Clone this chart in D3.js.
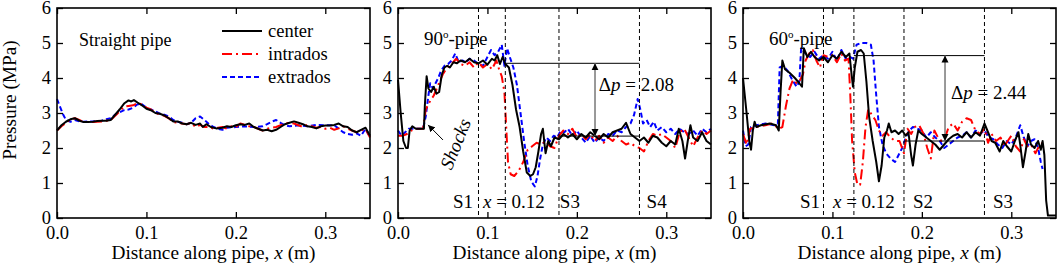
<!DOCTYPE html>
<html>
<head>
<meta charset="utf-8">
<script src="https://cdn.jsdelivr.net/npm/d3@7"></script>
<style>
  body { margin: 0; background: #fff; }
  text { font-family: "Liberation Serif", "Times New Roman", serif; fill: #000; }
</style>
</head>
<body>
<svg id="chart" width="1059" height="265"></svg>
<script>
// ---- data: [x (m), pressure (MPa)] ----
let xTicks = [0, 0.1, 0.2, 0.3];
let yTicks = [0, 1, 2, 3, 4, 5, 6];

let straightCenter = [[0,2.5],[0.005,2.65],[0.01,2.75],[0.015,2.82],[0.02,2.85],[0.025,2.78],[0.03,2.74],[0.035,2.74],[0.04,2.75],[0.045,2.77],[0.05,2.78],[0.055,2.78],[0.06,2.8],[0.065,2.95],[0.07,3.1],[0.075,3.27],[0.08,3.36],[0.083,3.33],[0.086,3.37],[0.09,3.3],[0.095,3.22],[0.1,3.12],[0.105,3.08],[0.11,3.0],[0.115,2.98],[0.12,2.93],[0.125,2.85],[0.13,2.76],[0.135,2.76],[0.14,2.7],[0.145,2.68],[0.15,2.72],[0.155,2.66],[0.16,2.7],[0.163,2.6],[0.167,2.68],[0.172,2.6],[0.178,2.56],[0.185,2.58],[0.19,2.62],[0.195,2.6],[0.2,2.65],[0.205,2.68],[0.21,2.66],[0.215,2.7],[0.22,2.6],[0.225,2.55],[0.23,2.5],[0.235,2.52],[0.24,2.48],[0.245,2.52],[0.25,2.6],[0.255,2.68],[0.26,2.72],[0.265,2.76],[0.27,2.72],[0.275,2.68],[0.28,2.62],[0.285,2.6],[0.29,2.56],[0.295,2.62],[0.3,2.64],[0.305,2.64],[0.31,2.66],[0.315,2.7],[0.32,2.62],[0.325,2.6],[0.33,2.5],[0.335,2.45],[0.34,2.52],[0.345,2.58],[0.35,2.35]];
let straightIntrados = [[0,2.5],[0.005,2.62],[0.01,2.72],[0.015,2.82],[0.02,2.85],[0.025,2.8],[0.03,2.74],[0.04,2.74],[0.05,2.76],[0.06,2.8],[0.065,2.92],[0.07,3.05],[0.075,3.18],[0.08,3.2],[0.085,3.22],[0.09,3.28],[0.095,3.25],[0.1,3.15],[0.105,3.1],[0.11,3.0],[0.12,2.92],[0.125,2.85],[0.13,2.74],[0.135,2.72],[0.14,2.7],[0.145,2.68],[0.15,2.72],[0.155,2.6],[0.16,2.66],[0.165,2.6],[0.17,2.6],[0.175,2.55],[0.18,2.58],[0.185,2.6],[0.19,2.55],[0.195,2.62],[0.2,2.6],[0.205,2.7],[0.21,2.66],[0.215,2.62],[0.22,2.6],[0.225,2.55],[0.23,2.5],[0.235,2.55],[0.24,2.58],[0.245,2.6],[0.25,2.65],[0.255,2.7],[0.26,2.72],[0.265,2.7],[0.27,2.65],[0.275,2.6],[0.28,2.66],[0.285,2.62],[0.29,2.58],[0.295,2.6],[0.3,2.55],[0.305,2.58],[0.31,2.52],[0.315,2.56],[0.32,2.62],[0.325,2.55],[0.33,2.5],[0.335,2.45],[0.34,2.5],[0.345,2.55],[0.35,2.3]];
let straightExtrados = [[0,3.4],[0.003,3.2],[0.007,2.95],[0.01,2.8],[0.015,2.75],[0.02,2.8],[0.025,2.76],[0.03,2.75],[0.04,2.76],[0.05,2.78],[0.055,2.82],[0.06,2.85],[0.065,2.95],[0.07,3.02],[0.075,3.08],[0.08,3.1],[0.085,3.15],[0.09,3.25],[0.095,3.25],[0.1,3.15],[0.105,3.1],[0.11,3.05],[0.115,2.98],[0.12,2.95],[0.125,2.9],[0.13,2.8],[0.135,2.75],[0.14,2.72],[0.145,2.68],[0.15,2.72],[0.155,2.85],[0.16,2.9],[0.165,2.8],[0.17,2.68],[0.175,2.6],[0.18,2.55],[0.185,2.52],[0.19,2.58],[0.2,2.6],[0.21,2.62],[0.22,2.6],[0.23,2.62],[0.235,2.68],[0.24,2.75],[0.245,2.8],[0.25,2.72],[0.255,2.65],[0.26,2.62],[0.27,2.65],[0.28,2.62],[0.29,2.66],[0.3,2.65],[0.31,2.65],[0.315,2.55],[0.32,2.45],[0.325,2.4],[0.33,2.38],[0.335,2.42],[0.34,2.35],[0.345,2.55],[0.35,2.3]];

let pipe90Center = [[0,3.95],[0.003,3.0],[0.006,2.2],[0.009,2.0],[0.011,2.0],[0.013,2.5],[0.016,2.62],[0.02,2.55],[0.025,2.55],[0.029,2.55],[0.03,3.2],[0.032,4.05],[0.034,3.7],[0.037,3.6],[0.04,3.75],[0.043,3.55],[0.046,3.6],[0.049,4.1],[0.052,4.3],[0.055,4.35],[0.058,4.3],[0.062,4.45],[0.066,4.42],[0.07,4.5],[0.075,4.45],[0.08,4.55],[0.085,4.45],[0.09,4.42],[0.095,4.5],[0.1,4.38],[0.105,4.55],[0.108,4.5],[0.111,4.65],[0.114,4.4],[0.117,4.6],[0.12,4.4],[0.124,4.3],[0.128,3.8],[0.132,3.1],[0.136,2.6],[0.14,1.9],[0.144,1.3],[0.148,1.2],[0.151,1.25],[0.154,1.45],[0.157,1.9],[0.16,2.4],[0.162,2.55],[0.165,1.85],[0.168,2.2],[0.171,2.05],[0.175,2.3],[0.18,2.25],[0.185,2.4],[0.19,2.3],[0.195,2.4],[0.2,2.25],[0.205,2.4],[0.21,2.3],[0.215,2.45],[0.22,2.35],[0.225,2.25],[0.23,2.4],[0.235,2.3],[0.24,2.45],[0.245,2.5],[0.25,2.55],[0.255,2.72],[0.26,2.4],[0.265,2.3],[0.27,2.2],[0.275,2.3],[0.28,2.15],[0.285,2.35],[0.29,2.3],[0.295,2.15],[0.3,2.05],[0.305,2.2],[0.31,2.1],[0.314,2.55],[0.318,2.2],[0.321,1.7],[0.324,2.2],[0.327,2.65],[0.33,2.3],[0.335,2.2],[0.34,2.45],[0.345,2.2],[0.35,2.1]];
let pipe90Intrados = [[0,2.35],[0.005,2.35],[0.01,2.4],[0.015,2.5],[0.02,2.55],[0.028,2.55],[0.031,3.1],[0.035,3.3],[0.04,3.5],[0.045,3.8],[0.05,4.1],[0.055,4.3],[0.06,4.4],[0.065,4.55],[0.07,4.4],[0.075,4.35],[0.08,4.45],[0.085,4.3],[0.09,4.45],[0.095,4.3],[0.1,4.4],[0.105,4.25],[0.11,4.5],[0.113,4.25],[0.116,4.05],[0.119,3.6],[0.121,2.6],[0.123,1.6],[0.126,1.25],[0.13,1.2],[0.135,1.35],[0.14,1.6],[0.145,1.95],[0.15,2.05],[0.155,2.15],[0.16,2.1],[0.165,2.2],[0.17,2.05],[0.175,2.0],[0.18,2.35],[0.185,2.5],[0.19,2.4],[0.195,2.55],[0.2,2.3],[0.205,2.4],[0.21,2.25],[0.215,2.4],[0.22,2.2],[0.225,2.35],[0.23,2.15],[0.235,2.3],[0.24,2.2],[0.245,2.35],[0.25,2.2],[0.255,2.1],[0.26,2.15],[0.265,2.05],[0.27,2.0],[0.275,1.9],[0.28,2.2],[0.285,2.4],[0.29,2.35],[0.295,2.4],[0.3,2.3],[0.305,2.2],[0.31,2.0],[0.315,2.45],[0.32,2.55],[0.325,2.3],[0.33,2.05],[0.335,2.3],[0.34,2.5],[0.345,2.4],[0.35,2.5]];
let pipe90Extrados = [[0,2.5],[0.004,2.35],[0.008,2.45],[0.012,2.55],[0.02,2.55],[0.028,2.55],[0.031,2.9],[0.034,3.5],[0.036,3.85],[0.039,3.7],[0.042,3.85],[0.045,4.0],[0.048,4.2],[0.052,4.35],[0.056,4.4],[0.06,4.5],[0.064,4.7],[0.068,4.45],[0.072,4.5],[0.076,4.45],[0.08,4.55],[0.085,4.5],[0.09,4.4],[0.095,4.35],[0.1,4.6],[0.104,4.8],[0.108,4.65],[0.112,4.75],[0.116,4.95],[0.119,4.35],[0.122,4.85],[0.125,4.6],[0.129,4.3],[0.133,3.8],[0.137,3.0],[0.141,2.2],[0.145,1.5],[0.149,1.05],[0.153,0.9],[0.156,1.2],[0.159,1.7],[0.162,2.1],[0.166,2.3],[0.17,2.2],[0.174,2.35],[0.178,2.3],[0.182,2.5],[0.186,2.45],[0.19,2.55],[0.195,2.35],[0.2,2.5],[0.205,2.3],[0.21,2.15],[0.215,2.35],[0.22,2.15],[0.225,2.3],[0.23,2.2],[0.235,2.4],[0.24,2.35],[0.245,2.5],[0.25,2.45],[0.255,2.6],[0.26,2.7],[0.264,2.95],[0.268,3.4],[0.271,3.1],[0.274,2.7],[0.278,2.8],[0.282,2.6],[0.286,2.75],[0.29,2.5],[0.295,2.6],[0.3,2.45],[0.305,2.55],[0.31,2.4],[0.315,2.55],[0.32,2.45],[0.325,2.4],[0.33,2.5],[0.335,2.35],[0.34,2.55],[0.345,2.45],[0.35,2.55]];

let pipe60Center = [[0,4.0],[0.004,3.0],[0.007,2.2],[0.009,1.95],[0.011,2.5],[0.013,2.75],[0.015,2.6],[0.02,2.65],[0.03,2.7],[0.037,2.65],[0.04,2.5],[0.042,3.6],[0.044,4.5],[0.047,4.25],[0.052,4.15],[0.058,4.0],[0.063,3.85],[0.066,3.75],[0.068,4.85],[0.072,4.6],[0.076,4.75],[0.08,4.6],[0.085,4.5],[0.09,4.6],[0.095,4.45],[0.1,4.65],[0.105,4.55],[0.11,4.75],[0.115,4.6],[0.119,4.7],[0.121,4.2],[0.123,3.75],[0.125,4.3],[0.128,4.75],[0.132,4.8],[0.135,4.7],[0.138,3.9],[0.141,2.9],[0.145,2.2],[0.149,1.6],[0.152,1.05],[0.155,1.5],[0.158,2.3],[0.161,2.5],[0.163,2.7],[0.166,2.45],[0.17,2.5],[0.174,2.4],[0.178,2.5],[0.182,2.35],[0.185,2.45],[0.188,1.8],[0.19,1.5],[0.193,2.1],[0.196,2.5],[0.2,2.4],[0.205,2.3],[0.21,2.2],[0.215,2.1],[0.22,1.95],[0.225,2.1],[0.23,2.25],[0.235,2.35],[0.24,2.4],[0.245,2.3],[0.25,2.45],[0.255,2.3],[0.26,2.45],[0.265,2.35],[0.27,2.7],[0.274,2.45],[0.278,2.2],[0.282,2.15],[0.287,1.9],[0.291,2.2],[0.295,2.05],[0.3,1.9],[0.304,2.2],[0.308,2.45],[0.31,2.1],[0.313,1.45],[0.316,1.9],[0.319,2.4],[0.322,2.1],[0.326,2.0],[0.33,2.2],[0.333,1.95],[0.335,2.2],[0.337,1.8],[0.339,0.5],[0.341,0.07],[0.35,0.07]];
let pipe60Intrados = [[0,2.4],[0.004,2.1],[0.008,2.55],[0.015,2.6],[0.025,2.65],[0.033,2.7],[0.04,2.55],[0.044,2.6],[0.048,3.2],[0.052,3.7],[0.056,3.95],[0.06,3.85],[0.064,3.95],[0.067,4.1],[0.07,4.5],[0.074,4.7],[0.078,4.8],[0.082,4.5],[0.086,4.3],[0.09,4.65],[0.095,4.6],[0.1,4.65],[0.105,4.45],[0.11,4.7],[0.114,4.5],[0.118,4.55],[0.12,3.5],[0.122,2.2],[0.125,1.3],[0.128,0.95],[0.131,0.95],[0.134,1.6],[0.137,2.6],[0.14,3.1],[0.144,2.95],[0.148,2.8],[0.152,2.5],[0.156,2.35],[0.16,2.45],[0.165,2.3],[0.17,2.2],[0.175,2.2],[0.18,1.85],[0.184,2.55],[0.188,2.4],[0.192,2.6],[0.197,2.65],[0.202,2.4],[0.206,2.0],[0.21,1.7],[0.214,2.5],[0.218,2.3],[0.222,2.2],[0.226,2.3],[0.23,2.6],[0.235,2.7],[0.24,2.5],[0.245,2.75],[0.25,2.85],[0.255,2.8],[0.26,2.5],[0.265,2.4],[0.27,2.55],[0.274,2.15],[0.278,2.4],[0.283,2.2],[0.288,2.3],[0.292,2.05],[0.296,2.2],[0.3,2.35],[0.305,2.05],[0.31,1.9],[0.314,2.25],[0.318,2.05],[0.322,2.1],[0.327,1.85],[0.331,2.05],[0.335,2.15]];
let pipe60Extrados = [[0,2.5],[0.003,2.05],[0.006,2.1],[0.009,2.6],[0.015,2.65],[0.025,2.7],[0.035,2.65],[0.039,2.7],[0.041,4.3],[0.045,4.35],[0.05,4.2],[0.055,3.95],[0.06,3.75],[0.063,3.9],[0.065,4.85],[0.07,4.7],[0.075,4.6],[0.08,4.75],[0.085,4.55],[0.09,4.65],[0.095,4.55],[0.1,4.75],[0.105,4.5],[0.11,4.8],[0.115,4.55],[0.12,4.6],[0.123,4.55],[0.127,4.95],[0.132,5.0],[0.138,5.0],[0.143,4.95],[0.146,4.5],[0.149,3.5],[0.152,2.6],[0.156,2.1],[0.16,1.85],[0.165,1.7],[0.17,1.6],[0.174,1.8],[0.178,2.0],[0.182,2.3],[0.186,2.5],[0.19,2.6],[0.195,2.55],[0.2,2.5],[0.205,2.3],[0.21,2.45],[0.215,2.3],[0.22,2.2],[0.225,2.0],[0.23,2.1],[0.235,2.2],[0.24,2.3],[0.245,2.35],[0.25,2.45],[0.255,2.3],[0.26,2.5],[0.265,2.4],[0.27,2.5],[0.275,2.3],[0.28,2.25],[0.285,2.1],[0.29,2.0],[0.295,2.2],[0.3,2.1],[0.305,2.3],[0.31,2.65],[0.314,2.3],[0.318,2.05],[0.322,2.2],[0.326,2.25],[0.33,2.0],[0.333,1.6],[0.335,1.4]];

// section markers and pressure jumps
let sections90 = [0.09, 0.12, 0.18, 0.27];
let sections60 = [0.09, 0.124, 0.18, 0.27];
let jump90 = {hi: 4.42, lo: 2.34, dp: '2.08'};
let jump60 = {hi: 4.64, lo: 2.20, dp: '2.44'};

let seriesNames = ['center', 'intrados', 'extrados'];
let seriesColors = ['#000', '#ff0000', '#0000ff'];
let seriesDash = [null, '10,4,2,4', '5,3'];

// ---- layout ----
let svg = d3.select('#chart');
let plotTop = 8, plotBottom = 218, pw = 313;
let lefts = [57, 398, 743];
let fs = '19px';

svg.append('defs').append('marker')
  .attr('id', 'ah').attr('viewBox', '0 0 10 10').attr('refX', 10).attr('refY', 5)
  .attr('markerWidth', 7).attr('markerHeight', 8).attr('markerUnits', 'userSpaceOnUse')
  .attr('orient', 'auto-start-reverse')
  .append('path').attr('d', 'M0,0 L10,5 L0,10 z').attr('fill', '#000');

function panel(i, series) {
  let x0 = lefts[i];
  let x = d3.scaleLinear().domain([0, 0.35]).range([x0, x0 + pw]);
  let y = d3.scaleLinear().domain([0, 6]).range([plotBottom, plotTop]);
  let g = svg.append('g');

  let ax = (gen, tr) => {
    let a = g.append('g').attr('transform', tr).call(gen);
    a.select('.domain').remove();
    a.selectAll('line').attr('stroke', '#000').attr('stroke-width', 1.3);
    a.selectAll('text').style('font-size', '18.5px').style('font-family', '"Liberation Serif", serif');
    return a;
  };
  ax(d3.axisBottom(x).tickValues(xTicks).tickFormat(d3.format('.1f')).tickSize(-6).tickPadding(8), `translate(0,${plotBottom})`);
  ax(d3.axisTop(x).tickValues(xTicks).tickFormat('').tickSize(-6), `translate(0,${plotTop})`);
  ax(d3.axisLeft(y).tickValues(yTicks).tickFormat(d3.format('d')).tickSize(-6).tickPadding(6), `translate(${x0},0)`);
  ax(d3.axisRight(y).tickValues(yTicks).tickFormat('').tickSize(-6), `translate(${x0 + pw},0)`);

  // data lines
  let line = d3.line().x(d => x(d[0])).y(d => y(d[1]));
  g.append('g').selectAll('path')
    .data(series.map((s, k) => ({s, k})).reverse())
    .join('path')
    .attr('d', d => line(d.s))
    .attr('fill', 'none')
    .attr('stroke', d => seriesColors[d.k])
    .attr('stroke-width', 2)
    .attr('stroke-linejoin', 'round')
    .attr('stroke-dasharray', d => seriesDash[d.k]);

  // frame
  g.append('rect').attr('x', x0).attr('y', plotTop).attr('width', pw).attr('height', plotBottom - plotTop)
    .attr('fill', 'none').attr('stroke', '#000').attr('stroke-width', 1.6);

  g.append('text').attr('x', x0 + pw / 2).attr('y', 259).attr('text-anchor', 'middle')
    .style('font-size', '19.3px')
    .html('Distance along pipe, <tspan font-style="italic">x</tspan> (m)');
  return {g, x, y};
}

function sectionMarks(p, secs, jump, arrowX, labels, dpPos) {
  let {g, x, y} = p;
  g.selectAll('line.sec').data(secs).join('line').attr('class', 'sec')
    .attr('x1', d => x(d)).attr('x2', d => x(d)).attr('y1', y(6)).attr('y2', y(0))
    .attr('stroke', '#000').attr('stroke-width', 1).attr('stroke-dasharray', '4,3');
  g.append('line').attr('x1', x(secs[1])).attr('x2', x(secs[3])).attr('y1', y(jump.hi)).attr('y2', y(jump.hi))
    .attr('stroke', '#000').attr('stroke-width', 1);
  g.append('line').attr('x1', x(secs[2])).attr('x2', x(secs[3])).attr('y1', y(jump.lo)).attr('y2', y(jump.lo))
    .attr('stroke', '#000').attr('stroke-width', 1);
  g.append('line').attr('x1', x(arrowX)).attr('x2', x(arrowX)).attr('y1', y(jump.lo)).attr('y2', y(jump.hi))
    .attr('stroke', '#777').attr('stroke-width', 1.5)
    .attr('marker-start', 'url(#ah)').attr('marker-end', 'url(#ah)');
  g.append('text').attr('x', x(dpPos[0])).attr('y', y(dpPos[1])).style('font-size', fs)
    .html(`Δ<tspan font-style="italic">p</tspan> = ${jump.dp}`);
  labels.forEach(l => {
    g.append('text').attr('x', x(l[0])).attr('y', y(0.3)).style('font-size', fs).html(l[1]);
  });
}

// panel 1: straight pipe
let p1 = panel(0, [straightCenter, straightIntrados, straightExtrados]);
p1.g.append('text').attr('x', 79).attr('y', 46).style('font-size', '18px').text('Straight pipe');
let leg = p1.g.append('g');
seriesNames.forEach((n, k) => {
  let yy = 31 + k * 23;
  leg.append('line').attr('x1', 222).attr('x2', 262).attr('y1', yy).attr('y2', yy)
    .attr('stroke', seriesColors[k]).attr('stroke-width', 2).attr('stroke-dasharray', seriesDash[k]);
  leg.append('text').attr('x', 268).attr('y', yy + 6).style('font-size', '18.5px').text(n);
});
svg.append('text').attr('transform', 'translate(16,100) rotate(-90)').attr('text-anchor', 'middle')
  .style('font-size', '19.3px').text('Pressure (MPa)');

// panel 2: 90 degree pipe
let p2 = panel(1, [pipe90Center, pipe90Intrados, pipe90Extrados]);
sectionMarks(p2, sections90, jump90, 0.2203,
  [[0.0615, 'S1'], [0.095, '<tspan font-style="italic">x</tspan> = 0.12'], [0.181, 'S3'], [0.278, 'S4']],
  [0.2245, 3.64]);
p2.g.append('text').attr('x', p2.x(0.029)).attr('y', p2.y(4.94)).style('font-size', fs)
  .html('90<tspan font-size="11px" dy="-7">o</tspan><tspan dy="7">-pipe</tspan>');
p2.g.append('line').attr('x1', p2.x(0.0503)).attr('y1', p2.y(2.23)).attr('x2', p2.x(0.0336)).attr('y2', p2.y(2.66))
  .attr('stroke', '#000').attr('stroke-width', 1).attr('marker-end', 'url(#ah)');
p2.g.append('text').attr('transform', `translate(${p2.x(0.064)},${p2.y(2.12)}) rotate(-68)`)
  .attr('text-anchor', 'middle').attr('dy', '0.35em').style('font-size', fs).style('font-style', 'italic')
  .text('Shocks');

// panel 3: 60 degree pipe
let p3 = panel(2, [pipe60Center, pipe60Intrados, pipe60Extrados]);
sectionMarks(p3, sections60, jump60, 0.2259,
  [[0.0637, 'S1'], [0.1006, '<tspan font-style="italic">x</tspan> = 0.12'], [0.19, 'S2'], [0.2795, 'S3']],
  [0.2326, 3.41]);
p3.g.append('text').attr('x', p3.x(0.029)).attr('y', p3.y(4.94)).style('font-size', fs)
  .html('60<tspan font-size="11px" dy="-7">o</tspan><tspan dy="7">-pipe</tspan>');
</script>
</body>
</html>
